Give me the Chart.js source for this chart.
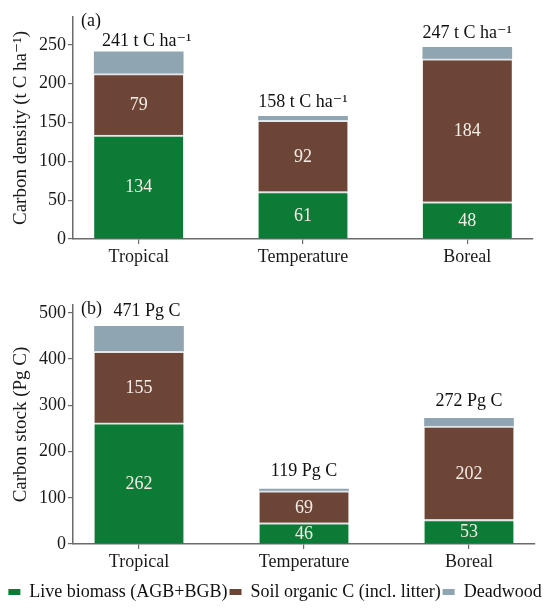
<!DOCTYPE html>
<html>
<head>
<meta charset="utf-8">
<script src="https://cdn.jsdelivr.net/npm/chart.js@4.4.0/dist/chart.umd.min.js"></script>
<style>
  html, body { margin: 0; padding: 0; background: #fff; overflow: hidden; }
  #wrap { position: relative; width: 550px; height: 611px; overflow: hidden; }
  .panel { position: absolute; }
  #pa { top: 0; left: 0; width: 550px; height: 280px; }
  /* panel b is a little wider than the page so the legend fits on one row */
  #pb { top: 280px; left: -10px; width: 570px; height: 331px; }
</style>
</head>
<body>
<div id="wrap">
  <div class="panel" id="pa"><canvas id="chartA"></canvas></div>
  <div class="panel" id="pb"><canvas id="chartB"></canvas></div>
</div>
<script>
const zones = ['Tropical', 'Temperature', 'Boreal'];
const seriesNames = ['Live biomass (AGB+BGB)', 'Soil organic C (incl. litter)', 'Deadwood'];

// (a) carbon density, t C ha-1
const densityLive = [134, 61, 48];
const densitySoil = [79, 92, 184];
const densityDead = [28, 5, 15];
const densityTicks = [0, 50, 100, 150, 200, 250];

// (b) carbon stock, Pg C
const stockLive = [262, 46, 53];
const stockSoil = [155, 69, 202];
const stockDead = [54, 4, 17];
const stockTicks = [0, 100, 200, 300, 400, 500];

const colors = ['#0b7b36', '#6d4537', '#8fa5b1'];
const SERIF = '"Liberation Serif", "DejaVu Serif", serif';

Chart.defaults.font.family = SERIF;
Chart.defaults.font.size = 18;
Chart.defaults.color = '#1a1a1a';

const toPoints = arr => arr.map((v, i) => ({ x: i, y: v }));

function makeDatasets(live, soil, dead) {
    return [live, soil, dead].map((arr, k) => ({
        label: seriesNames[k],
        data: toPoints(arr),
        backgroundColor: colors[k],
        borderColor: '#e3e7e9',
        borderWidth: k < 2 ? { top: 2, left: 0, right: 0, bottom: 0 } : 0,
        borderSkipped: false,
        barThickness: 89
    }));
}

// value labels inside the bars, totals above, panel tag
const barLabels = {
    id: 'barLabels',
    afterDatasetsDraw(chart, args, opts) {
        const { ctx } = chart;
        ctx.save();
        ctx.font = '18px ' + SERIF;
        ctx.textAlign = 'center';
        ctx.textBaseline = 'middle';
        [0, 1].forEach(di => {
            chart.getDatasetMeta(di).data.forEach((bar, i) => {
                const v = chart.data.datasets[di].data[i].y;
                ctx.fillStyle = '#f4eee8';
                ctx.fillText(String(v), bar.x, (bar.y + bar.base) / 2 + 1);
            });
        });
        chart.getDatasetMeta(2).data.forEach((bar, i) => {
            const total = chart.data.datasets.reduce((s, ds) => s + ds.data[i].y, 0);
            ctx.fillStyle = '#111';
            // first total is nudged right, clear of the panel tag
            ctx.fillText(total + opts.unit, bar.x + (i === 0 ? 8 : 0), bar.y - opts.gap[i]);
        });
        ctx.textAlign = 'left';
        ctx.fillStyle = '#111';
        ctx.fillText(opts.tag, chart.chartArea.left + 8, chart.chartArea.top + 4);
        ctx.restore();
    }
};

function makeOptions(cfg) {
    const scales = {
        x: {
            type: 'linear',
            stacked: true,
            offset: false,
            min: -0.4,
            max: 2.4,
            afterBuildTicks: s => { s.ticks = zones.map((z, i) => ({ value: i })); },
            afterFit: s => { s.height = cfg.xHeight; },
            ticks: {
                callback: v => zones[v],
                padding: 2,
                color: '#1a1a1a',
                maxRotation: 0,
                autoSkip: false
            },
            grid: { display: true, drawOnChartArea: false, offset: false, tickLength: 5, color: '#6b6b6b', lineWidth: 1.2 },
            border: { display: true, color: '#6b6b6b', width: 1.5 }
        },
        y: {
            stacked: true,
            min: 0,
            max: cfg.yMax,
            afterBuildTicks: s => { s.ticks = cfg.ticks.map(v => ({ value: v })); },
            afterFit: s => { s.width = cfg.yWidth; },
            ticks: { padding: 2, color: '#1a1a1a' },
            grid: { display: true, drawOnChartArea: false, tickLength: 5, color: '#6b6b6b', lineWidth: 1.2 },
            border: { display: true, color: '#6b6b6b', width: 1.5 },
            title: {
                display: true,
                text: cfg.yTitle,
                color: '#1a1a1a',
                font: { size: 19 },
                padding: { top: cfg.titlePad, bottom: 0 }
            }
        }
    };
    if (cfg.rightGap) {
        // empty right-hand axis: only reserves room so the legend keeps the full width
        scales.spacer = {
            type: 'linear',
            position: 'right',
            display: true,
            afterFit: s => { s.width = cfg.rightGap; },
            ticks: { display: false },
            grid: { display: false },
            border: { display: false }
        };
    }
    return {
        responsive: true,
        maintainAspectRatio: false,
        animation: false,
        layout: { padding: { top: cfg.padTop, right: cfg.padRight, left: 0, bottom: 0 } },
        scales,
        plugins: {
            legend: cfg.legend ? {
                display: true,
                position: 'bottom',
                labels: {
                    boxWidth: 12,
                    boxHeight: 6,
                    padding: 2,
                    color: '#111',
                    font: { size: 18 },
                    generateLabels: chart =>
                        Chart.defaults.plugins.legend.labels.generateLabels(chart)
                            .map(l => ({ ...l, lineWidth: 0 }))
                }
            } : { display: false },
            tooltip: { enabled: false },
            barLabels: { unit: cfg.unit, gap: cfg.gap, tag: cfg.tag }
        }
    };
}

new Chart(document.getElementById('chartA'), {
    type: 'bar',
    data: { datasets: makeDatasets(densityLive, densitySoil, densityDead) },
    options: makeOptions({
        padTop: 17, padRight: 17, xHeight: 41, yMax: 286, yWidth: 73, titlePad: 10,
        ticks: densityTicks, yTitle: 'Carbon density (t C ha\u207B\u00B9)',
        unit: ' t C ha\u207B\u00B9', gap: [11, 14, 14], tag: '(a)', legend: false
    }),
    plugins: [barLabels]
});

new Chart(document.getElementById('chartB'), {
    type: 'bar',
    data: { datasets: makeDatasets(stockLive, stockSoil, stockDead) },
    options: makeOptions({
        padTop: 25, padRight: 0, rightGap: 25, xHeight: 37, yMax: 517, yWidth: 83, titlePad: 20,
        ticks: stockTicks, yTitle: 'Carbon stock (Pg C)',
        unit: ' Pg C', gap: [15, 18, 17], tag: '(b)', legend: true
    }),
    plugins: [barLabels]
});
</script>
</body>
</html>
